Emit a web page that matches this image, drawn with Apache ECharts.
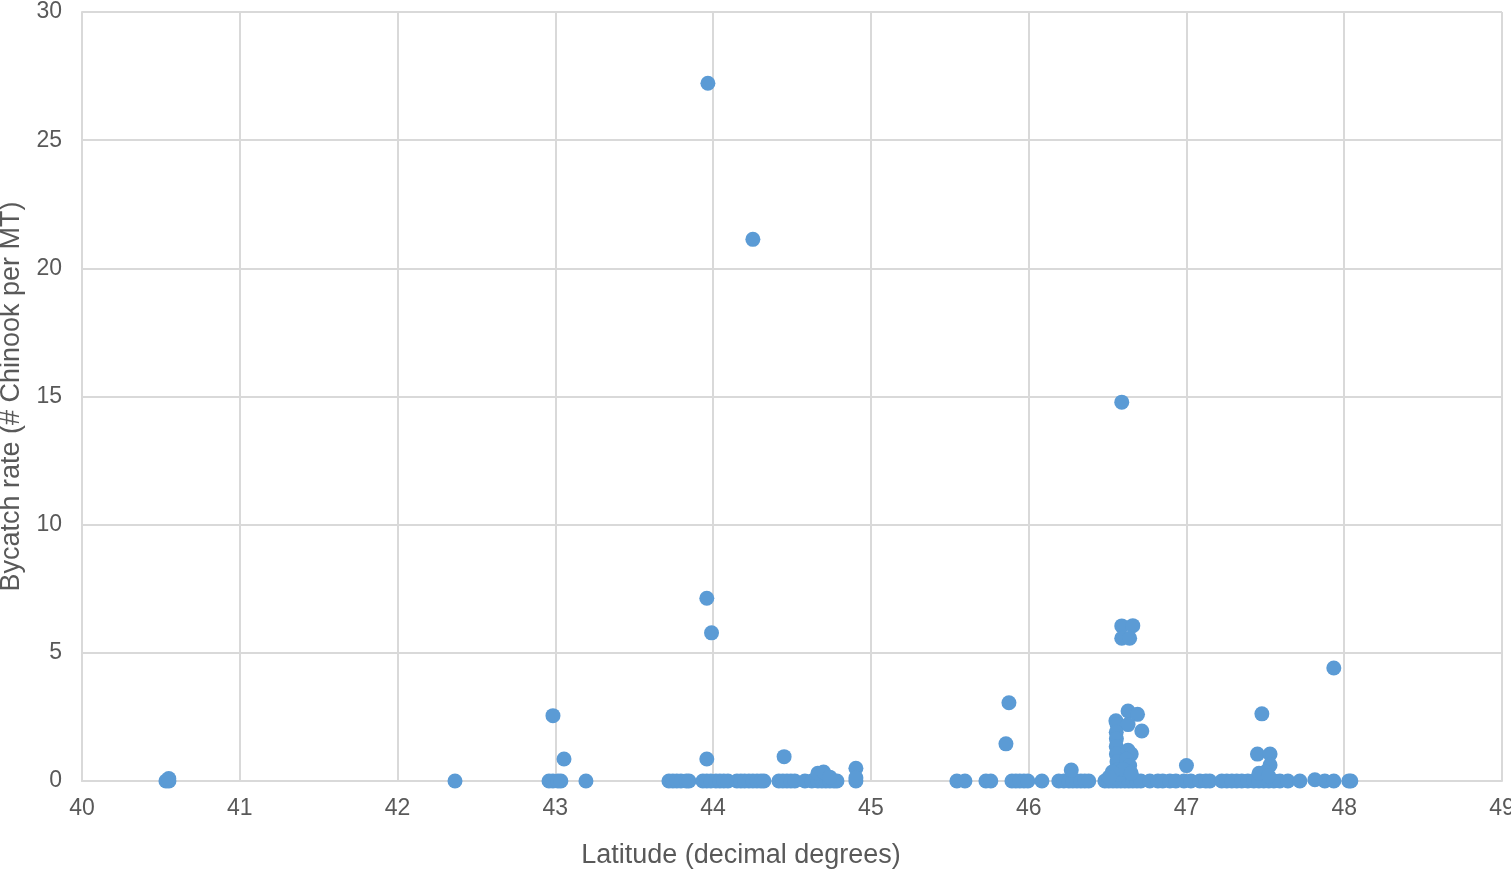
<!DOCTYPE html>
<html>
<head>
<meta charset="utf-8">
<script src="https://cdn.jsdelivr.net/npm/echarts@6/dist/echarts.min.js"></script>
<style>
  html, body { margin: 0; padding: 0; background: #fff; }
  #main { width: 1511px; height: 870px; }
</style>
</head>
<body>
<div id="main"></div>
<script>
// latitudes of hauls with no chinook bycatch (rate 0)
var zeroLat = [
  40.532, 40.551, 42.364, 42.96, 42.985, 43.016, 43.035, 43.194,
  43.72, 43.745, 43.77, 43.796, 43.83, 43.847,
  43.935, 43.96, 43.986, 44.018, 44.043, 44.068, 44.094,
  44.151, 44.176, 44.2, 44.227, 44.252, 44.278, 44.303, 44.322,
  44.417, 44.442, 44.468, 44.493, 44.518,
  44.582, 44.626, 44.664, 44.69, 44.715, 44.74, 44.766, 44.785, 44.905,
  45.545, 45.596, 45.729, 45.76,
  45.894, 45.919, 45.944, 45.97, 45.995, 46.084,
  46.191, 46.223, 46.255, 46.28, 46.306, 46.331, 46.356, 46.381,
  46.483, 46.508, 46.534, 46.559, 46.584, 46.61, 46.635, 46.66, 46.686, 46.711,
  46.768, 46.819, 46.85, 46.895, 46.933, 46.984, 47.028, 47.085, 47.123, 47.148,
  47.224, 47.256, 47.288, 47.319, 47.351, 47.389, 47.427, 47.459, 47.49, 47.522, 47.554, 47.592,
  47.643, 47.719, 47.877, 47.934, 48.029, 48.042
];

// hauls with positive bycatch rate
var posLat = [
  43.967, 44.252, 46.59, 43.96, 43.99, 46.59, 46.66, 46.59, 46.64, 47.934,
  42.985, 45.875, 45.856, 47.478, 46.63, 46.69, 46.553, 46.56, 46.63, 46.717,
  46.555, 46.556, 46.555, 46.556, 46.56, 46.565, 46.57, 46.63, 46.65, 46.62,
  46.64, 46.6, 46.65, 46.53, 46.51, 43.055, 43.96, 44.45, 47.45, 47.53,
  47.0, 47.53, 47.5, 47.46, 47.52, 44.905, 44.905, 46.27, 44.664, 44.7,
  44.74, 40.55, 47.814
];
var posRate = [
  27.22, 21.13, 14.78, 7.13, 5.78, 6.05, 6.06, 5.57, 5.57, 4.41,
  2.55, 3.05, 1.45, 2.62, 2.73, 2.6, 2.35, 2.2, 2.2, 1.95,
  1.9, 1.65, 1.35, 1.05, 0.75, 0.45, 0.25, 1.2, 1.05, 0.85,
  0.6, 0.45, 0.3, 0.35, 0.15, 0.86, 0.86, 0.95, 1.05, 1.05,
  0.6, 0.62, 0.35, 0.3, 0.2, 0.5, 0.12, 0.43, 0.3, 0.35,
  0.15, 0.1, 0.05
];

var yTicks = [0, 5, 10, 15, 20, 25, 30];
var xMin = 40, xMax = 49;

var points = [];
for (var i = 0; i < zeroLat.length; i++) {
  points.push([zeroLat[i], 0]);
}
for (var j = 0; j < posLat.length; j++) {
  points.push([posLat[j], posRate[j]]);
}

var myChart = echarts.init(document.getElementById("main"));
myChart.setOption({
  animation: false,
  textStyle: { fontFamily: "Liberation Sans, Arial, sans-serif" },
  grid: {
    left: 82,
    right: 9,
    top: 12,
    bottom: 89,
    containLabel: false,
    outerBoundsMode: "none"
  },
  xAxis: {
    type: "value",
    min: xMin,
    max: xMax,
    interval: 1,
    name: "Latitude (decimal degrees)",
    nameLocation: "middle",
    nameGap: 61,
    // title sits left of the plot centre in the original
    nameTextStyle: { color: "#595959", fontSize: 27, padding: [0, 102, 0, 0] },
    axisLine: { show: true, lineStyle: { color: "#d9d9d9", width: 2 } },
    axisTick: { show: false },
    axisLabel: { color: "#595959", fontSize: 23, margin: 16 },
    splitLine: { show: true, lineStyle: { color: "#d9d9d9", width: 2 } }
  },
  yAxis: {
    type: "value",
    min: yTicks[0],
    max: yTicks[yTicks.length - 1],
    interval: 5,
    name: "Bycatch rate (# Chinook per MT)",
    nameLocation: "middle",
    nameGap: 54,
    nameTextStyle: { color: "#595959", fontSize: 27 },
    axisLine: { show: true, lineStyle: { color: "#d9d9d9", width: 2 } },
    axisTick: { show: false },
    axisLabel: { color: "#595959", fontSize: 23, margin: 20 },
    splitLine: { show: true, lineStyle: { color: "#d9d9d9", width: 2 } }
  },
  series: [
    {
      type: "scatter",
      symbol: "circle",
      symbolSize: 15,
      itemStyle: { color: "#5b9bd5", opacity: 1 },
      data: points
    }
  ]
});
</script>
</body>
</html>
